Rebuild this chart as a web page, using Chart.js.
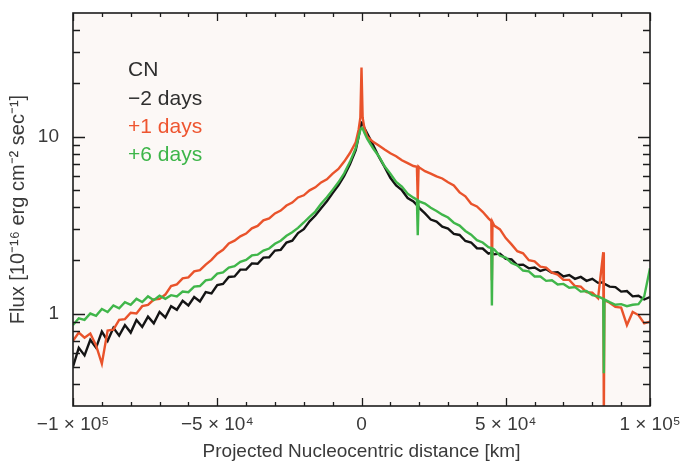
<!DOCTYPE html>
<html>
<head>
<meta charset="utf-8">
<script src="https://cdn.jsdelivr.net/npm/chart.js@4.4.1/dist/chart.umd.min.js"></script>
<style>
  html, body { margin: 0; padding: 0; background: #ffffff; }
</style>
</head>
<body>
<canvas id="ChartCN" width="686" height="465"></canvas>
<script>

/// DADOS - perfil CN (fluxo x distancia nucleocentrica)

const distanceKm = [
    -100000, -98000, -96000, -94000, -92000, -90000, -88000, -86000, -84000, -82000,
    -80000, -78000, -76000, -74000, -72000, -70000, -68000, -66000, -64000, -62000,
    -60000, -58000, -56000, -54000, -52000, -50000, -48000, -46000, -44000, -42000,
    -40000, -38000, -36000, -34000, -32000, -30000, -28000, -26000, -24000, -22000,
    -20000, -18000, -16000, -14000, -12000, -10000, -8000, -6000, -4000, -2000,
    -1000, -400, 0, 400, 1000,
    2000, 4000, 6000, 8000, 10000, 12000, 14000, 16000, 18000,
    19200, 19500, 19800,
    20000, 22000, 24000, 26000, 28000, 30000, 32000, 34000, 36000, 38000,
    40000, 42000, 44000,
    45000, 45200, 45400,
    46000, 48000, 50000, 52000, 54000, 56000, 58000, 60000, 62000, 64000,
    66000, 68000, 70000, 72000, 74000, 76000, 78000, 80000, 82000,
    83800, 84000, 84200,
    86000, 88000, 90000, 92000, 94000, 96000, 98000, 100000
];

const fluxMinus2Days = [
    0.50, 0.64, 0.58, 0.71, 0.64, 0.79, 0.70, 0.83, 0.75, 0.86,
    0.78, 0.92, 0.84, 0.96, 0.88, 1.02, 0.95, 1.10, 1.05, 1.18,
    1.11, 1.24, 1.17, 1.32, 1.30, 1.45, 1.47, 1.61, 1.62, 1.77,
    1.77, 1.92, 1.91, 2.07, 2.08, 2.27, 2.29, 2.52, 2.58, 2.85,
    3.00, 3.32, 3.58, 3.94, 4.31, 4.79, 5.31, 5.99, 6.98, 8.40,
    10.0, 11.2, 12.0, 11.9, 11.2,
    10.4, 9.0, 7.7, 6.75, 5.85, 5.30, 4.98, 4.50, 4.30,
    4.10, 4.05, 4.02,
    3.95, 3.68, 3.40, 3.31, 3.10, 3.02, 2.82, 2.78, 2.57, 2.52,
    2.34, 2.33, 2.18,
    2.21, 2.23, 2.20,
    2.16, 2.18, 2.04, 2.02, 1.88, 1.89, 1.80, 1.82, 1.74, 1.78,
    1.70, 1.71, 1.62, 1.65, 1.57, 1.61, 1.53, 1.57, 1.49,
    1.50, 1.50, 1.47,
    1.42, 1.41, 1.33, 1.34, 1.25, 1.26, 1.20, 1.24
];

const fluxPlus1Days = [
    0.70, 0.78, 0.73, 0.77, 0.66, 0.52, 0.80, 0.81, 0.92, 0.93,
    1.01, 1.00, 1.10, 1.12, 1.20, 1.21, 1.28, 1.43, 1.46, 1.58,
    1.60, 1.73, 1.76, 1.89, 2.01, 2.18, 2.29, 2.49, 2.58, 2.73,
    2.83, 3.03, 3.13, 3.36, 3.45, 3.68, 3.82, 4.08, 4.24, 4.53,
    4.66, 4.97, 5.17, 5.51, 5.74, 6.18, 6.57, 7.23, 8.08, 9.30,
    10.95, 12.8, 24.6, 12.8, 11.2,
    10.0, 9.35, 8.9, 8.45, 8.05, 7.75, 7.35, 7.08, 6.82,
    6.75, 4.4, 6.75,
    6.70, 6.38, 6.18, 5.96, 5.80, 5.52, 5.30, 4.84, 4.60, 4.17,
    4.03, 3.76, 3.45,
    3.33, 1.54, 3.29,
    3.14, 2.99, 2.67, 2.46, 2.25, 2.19, 2.00, 1.97, 1.84, 1.82,
    1.70, 1.66, 1.55, 1.55, 1.43, 1.42, 1.32, 1.31, 1.22,
    2.22, 0.25, 1.19,
    1.15, 1.09, 1.08, 0.86, 1.02, 0.98, 0.88, 0.90
];

const fluxPlus6Days = [
    0.86, 0.94, 0.92, 1.00, 0.97, 1.06, 1.02, 1.11, 1.07, 1.16,
    1.12, 1.21, 1.16, 1.25, 1.19, 1.26, 1.21, 1.27, 1.25, 1.33,
    1.32, 1.42, 1.43, 1.54, 1.56, 1.68, 1.71, 1.82, 1.85, 1.96,
    2.01, 2.13, 2.15, 2.27, 2.33, 2.48, 2.58, 2.75, 2.88, 3.05,
    3.27, 3.52, 3.77, 4.17, 4.54, 5.00, 5.52, 6.20, 7.20, 8.60,
    10.0, 10.9, 11.2, 11.1, 10.5,
    9.7, 8.6, 7.75, 6.8, 6.18, 5.55, 5.22, 4.76, 4.52,
    4.40, 2.77, 4.33,
    4.30, 4.18, 3.96, 3.80, 3.62, 3.49, 3.26, 3.14, 2.93, 2.79,
    2.60, 2.52, 2.37,
    2.34, 1.11, 2.33,
    2.30, 2.12, 2.07, 1.93, 1.87, 1.75, 1.73, 1.62, 1.62, 1.53,
    1.54, 1.46, 1.47, 1.40, 1.41, 1.33, 1.34, 1.27, 1.25,
    1.21, 0.46, 1.20,
    1.16, 1.12, 1.13, 1.10, 1.12, 1.13, 1.25, 1.80
];

const xTickValues = [-100000, -50000, 0, 50000, 100000];
const xTickLabels = ['−1 × 10⁵', '−5 × 10⁴', '0', '5 × 10⁴', '1 × 10⁵'];
const xMinorValues = [-90000, -80000, -70000, -60000, -40000, -30000, -20000, -10000,
    10000, 20000, 30000, 40000, 60000, 70000, 80000, 90000];
const yTickValues = [1, 10];
const yTickLabels = ['1', '10'];
const yMinorValues = [0.4, 0.5, 0.6, 0.7, 0.8, 0.9, 2, 3, 4, 5, 6, 7, 8, 9, 20, 30, 40];

const legendLabels = ['CN', '−2 days', '+1 days', '+6 days'];
const legendColors = ['#2e2e2e', '#2e2e2e', '#ee5530', '#3db549'];

const COR_PRETO = '#141414';
const COR_VERMELHO = '#e9532b';
const COR_VERDE = '#40b64a';
const COR_TEXTO = '#3a3a3a';
const FONTE = '"Liberation Sans", Arial, sans-serif';


function pontos(valores) {
    return distanceKm.map(function (d, i) {
        return { x: d, y: valores[i] };
    });
}


/// MOLDURA, TICKS PARA DENTRO E LEGENDA EM TEXTO

const molduraPlugin = {
    id: 'moldura',
    beforeDraw(chart) {
        const a = chart.chartArea;
        const ctx = chart.ctx;
        ctx.save();
        ctx.fillStyle = '#fcf8f6';
        ctx.fillRect(a.left, a.top, a.right - a.left, a.bottom - a.top);
        ctx.restore();
    },
    afterDraw(chart) {
        const a = chart.chartArea;
        const ctx = chart.ctx;
        const sx = chart.scales.x;
        const sy = chart.scales.y;

        ctx.save();
        ctx.strokeStyle = '#1c1c1c';
        ctx.lineWidth = 1.3;

        function tickX(v, len) {
            const p = Math.round(sx.getPixelForValue(v)) + 0.5;
            ctx.beginPath();
            ctx.moveTo(p, a.bottom);
            ctx.lineTo(p, a.bottom - len);
            ctx.moveTo(p, a.top);
            ctx.lineTo(p, a.top + len);
            ctx.stroke();
        }

        function tickY(v, len) {
            const p = Math.round(sy.getPixelForValue(v)) + 0.5;
            ctx.beginPath();
            ctx.moveTo(a.left, p);
            ctx.lineTo(a.left + len, p);
            ctx.moveTo(a.right, p);
            ctx.lineTo(a.right - len, p);
            ctx.stroke();
        }

        xTickValues.forEach(function (v) { tickX(v, 8); });
        xMinorValues.forEach(function (v) { tickX(v, 4); });
        yTickValues.forEach(function (v) { tickY(v, 12); });
        yMinorValues.forEach(function (v) { tickY(v, 7); });

        ctx.lineWidth = 1.6;
        ctx.strokeRect(a.left, a.top, a.right - a.left, a.bottom - a.top);

        ctx.font = '21px ' + FONTE;
        ctx.textBaseline = 'alphabetic';
        ctx.textAlign = 'left';
        const legendY = [76, 105, 133, 161];
        legendLabels.forEach(function (t, i) {
            ctx.fillStyle = legendColors[i];
            ctx.fillText(t, 128, legendY[i]);
        });
        ctx.restore();
    }
};


/// GRAFICO

const chartCN = document.getElementById('ChartCN');

new Chart(chartCN, {
    type: 'line',
    data: {
        datasets: [
            {
                label: '+6 days',
                data: pontos(fluxPlus6Days),
                borderColor: COR_VERDE,
                borderWidth: 2.4,
                pointRadius: 0,
                clip: 0
            },
            {
                label: '+1 days',
                data: pontos(fluxPlus1Days),
                borderColor: COR_VERMELHO,
                borderWidth: 2.4,
                pointRadius: 0,
                clip: 0
            },
            {
                label: '−2 days',
                data: pontos(fluxMinus2Days),
                borderColor: COR_PRETO,
                borderWidth: 2.4,
                pointRadius: 0,
                clip: 0
            }
        ]
    },
    options: {
        responsive: false,
        animation: false,
        layout: {
            padding: { top: 13, right: 36, bottom: 0, left: 0 }
        },
        plugins: {
            legend: { display: false },
            tooltip: { enabled: false }
        },
        scales: {
            x: {
                type: 'linear',
                min: -100000,
                max: 100000,
                afterBuildTicks: function (scale) {
                    scale.ticks = xTickValues.map(function (v) { return { value: v }; });
                },
                afterFit: function (scale) {
                    scale.height = 59;
                    scale.paddingLeft = 0;
                    scale.paddingRight = 0;
                },
                grid: { display: false, drawTicks: false },
                border: { display: false },
                ticks: {
                    autoSkip: false,
                    maxRotation: 0,
                    padding: 7,
                    color: COR_TEXTO,
                    font: { family: FONTE, size: 19 },
                    callback: function (value) {
                        return xTickLabels[xTickValues.indexOf(value)];
                    }
                },
                title: {
                    display: true,
                    text: 'Projected Nucleocentric distance [km]',
                    color: COR_TEXTO,
                    font: { family: FONTE, size: 19 },
                    padding: { top: 0, bottom: 2 }
                }
            },
            y: {
                type: 'logarithmic',
                min: 0.3,
                max: 50,
                afterBuildTicks: function (scale) {
                    scale.ticks = yTickValues.map(function (v) { return { value: v }; });
                },
                afterFit: function (scale) {
                    scale.width = 73;
                    scale.paddingTop = 0;
                    scale.paddingBottom = 0;
                },
                grid: { display: false, drawTicks: false },
                border: { display: false },
                ticks: {
                    padding: 14,
                    color: COR_TEXTO,
                    font: { family: FONTE, size: 19 },
                    callback: function (value) {
                        return yTickLabels[yTickValues.indexOf(value)];
                    }
                },
                title: {
                    display: true,
                    text: 'Flux [10⁻¹⁶ erg cm⁻² sec⁻¹]',
                    color: COR_TEXTO,
                    font: { family: FONTE, size: 20 },
                    padding: { top: 6, bottom: 0 }
                }
            }
        }
    },
    plugins: [molduraPlugin]
});

</script>
</body>
</html>
